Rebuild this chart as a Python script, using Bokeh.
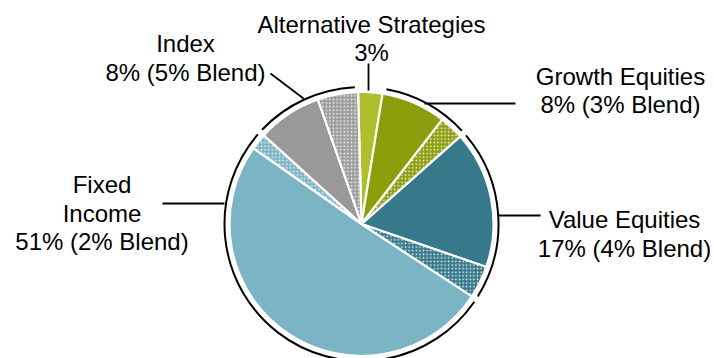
import numpy as np
from bokeh.plotting import figure
from bokeh.models import Range1d, ColumnDataSource
from bokeh.embed import file_html
from bokeh.resources import INLINE
from bokeh.core.properties import value

# ---- data (clockwise from 12 o'clock) ----
slice_names = ["Alternative Strategies", "Growth Equities", "Growth Equities (Blend)",
               "Value Equities", "Value Equities (Blend)", "Fixed Income",
               "Fixed Income (Blend)", "Index", "Index (Blend)"]
slice_shares = [3, 8, 3, 17, 4, 51, 2, 8, 5]
slice_group = [0, 1, 1, 2, 2, 3, 3, 4, 4]
slice_is_blend = [False, False, True, False, True, False, True, False, True]
slice_colors = ["#AFBE2B", "#8B9E0C", "#8B9E0C", "#35798B", "#35798B",
                "#7BB4C5", "#7BB4C5", "#999999", "#9C9C9C"]

group_names = ["Alternative Strategies", "Growth Equities", "Value Equities",
               "Fixed Income", "Index"]
group_has_bracket = [False, True, True, True, True]
label_lines = [["Alternative Strategies", "3%"],
               ["Growth Equities", "8% (3% Blend)"],
               ["Value Equities", "17% (4% Blend)"],
               ["Fixed", "Income", "51% (2% Blend)"],
               ["Index", "8% (5% Blend)"]]

# ---- layout (pixel positions, y measured from top) ----
W, H = 714, 358
CX, CY = 361, 223.5
R_PIE = 132
R_BRACKET = 137
START_DEG = -1.5
PAD_DEG = 1.3
label_x = [371, 620, 624, 101.5, 185]
label_y0 = [23.5, 75.5, 219, 184, 43]
LINE_STEP = 28.5
leader_x0 = [368, 424, 497, 162, 270]
leader_y0 = [63, 103, 215, 203, 73]
leader_x1 = [368, 515, 540, 224, 303]
leader_y1 = [90, 103, 215, 203, 98]

def fy(y):
    return H - y

p = figure(width=W, height=H, output_backend="svg", toolbar_location=None,
           x_range=Range1d(0, W), y_range=Range1d(0, H), min_border=0,
           outline_line_color=None, background_fill_color="white")
p.axis.visible = False
p.grid.visible = False

total = float(sum(slice_shares))
cum = np.concatenate([[0.0], np.cumsum(slice_shares)]) / total * 360.0 + START_DEG
theta0 = cum[:-1]
theta1 = cum[1:]
start_ang = np.radians(90 - theta0)
end_ang = np.radians(90 - theta1)

solid_idx = [i for i, b in enumerate(slice_is_blend) if not b]
blend_idx = [i for i, b in enumerate(slice_is_blend) if b]

def wedge_src(idx):
    return ColumnDataSource(dict(
        name=[slice_names[i] for i in idx],
        start=[start_ang[i] for i in idx],
        end=[end_ang[i] for i in idx],
        color=[slice_colors[i] for i in idx]))

p.wedge(x=CX, y=fy(CY), radius=R_PIE, start_angle="start", end_angle="end",
        direction="clock", fill_color="color", line_color="white", line_width=2.2,
        source=wedge_src(solid_idx))
p.wedge(x=CX, y=fy(CY), radius=R_PIE, start_angle="start", end_angle="end",
        direction="clock", fill_color="color", line_color="white", line_width=2.2,
        hatch_pattern="dot", hatch_color="white", hatch_scale=3.6, hatch_weight=1.8,
        hatch_alpha=0.9, source=wedge_src(blend_idx))

# group brackets (outer black arcs)
g_start, g_end = [], []
for g in range(len(group_names)):
    members = [i for i, s in enumerate(slice_group) if s == g]
    g_start.append(theta0[members[0]] + PAD_DEG)
    g_end.append(theta1[members[-1]] - PAD_DEG)
bi = [g for g in range(len(group_names)) if group_has_bracket[g]]
p.arc(x=CX, y=fy(CY), radius=R_BRACKET,
      start_angle=[np.radians(90 - g_start[g]) for g in bi],
      end_angle=[np.radians(90 - g_end[g]) for g in bi],
      direction="clock", line_color="black", line_width=2)

# leader lines
p.segment(x0=leader_x0, y0=[fy(v) for v in leader_y0],
          x1=leader_x1, y1=[fy(v) for v in leader_y1],
          line_color="black", line_width=1.8)

# labels
tx, ty, tt = [], [], []
for g, lines in enumerate(label_lines):
    for k, line in enumerate(lines):
        tx.append(label_x[g])
        ty.append(fy(label_y0[g] + k * LINE_STEP))
        tt.append(line)
p.text(x=tx, y=ty, text=tt, text_align="center", text_baseline="middle",
       text_font=value("Liberation Sans"), text_font_size="24px",
       text_color="black")

open("out.html", "w").write(file_html(p, INLINE))
